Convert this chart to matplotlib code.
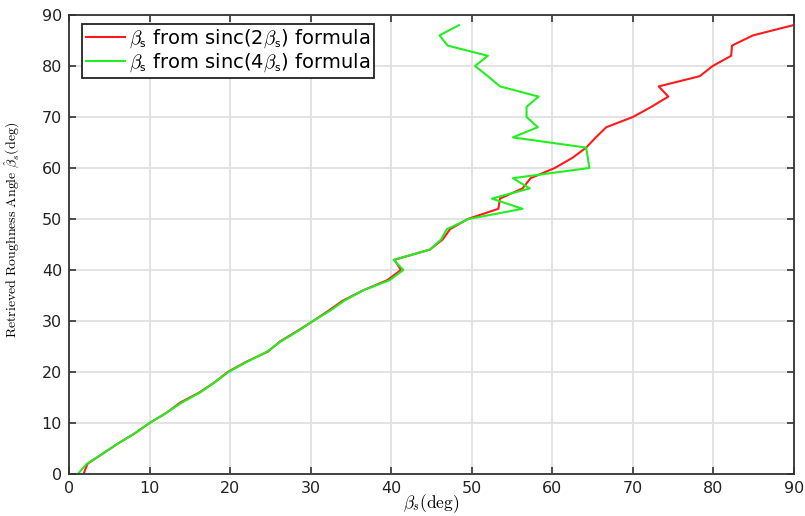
import matplotlib
matplotlib.use("Agg")
import matplotlib.pyplot as plt

plt.rcParams['font.family'] = ['DejaVu Sans']
plt.rcParams['mathtext.fontset'] = 'cm'

# retrieved angle levels (y) and the corresponding beta_s (x) for each formula
y_levels = [0, 2, 4, 6, 8, 10, 12, 14, 16, 18, 20, 22, 24, 26, 28, 30, 32, 34, 36, 38,
            40, 42, 44, 46, 48, 50, 52, 54, 56, 58, 60, 62, 64, 66, 68, 70, 72, 74, 76,
            78, 80, 82, 84, 86, 88]
x_sinc2 = [1.8, 2.3, 4.2, 6.1, 8.2, 10.0, 12.1, 13.8, 16.2, 18.1, 19.7, 22.0, 24.7, 26.2,
           28.3, 30.3, 32.2, 34.0, 36.5, 39.5, 41.2, 40.4, 44.8, 46.4, 47.3, 49.5, 53.3,
           53.5, 56.3, 57.3, 60.3, 62.5, 64.2, 65.4, 66.7, 70.0, 72.3, 74.4, 73.2, 78.3,
           79.9, 82.2, 82.3, 84.9, 89.9]
y_levels4 = [0, 2, 4, 6, 8, 10, 12, 14, 16, 18, 20, 22, 24, 26, 28, 30, 32, 34, 36, 38,
             40, 42, 44, 46, 48, 50, 52, 54, 56, 58, 60, 62, 64, 66, 68, 70, 72, 74, 76,
             78, 80, 82, 84, 86, 88]
x_sinc4 = [1.1, 2.2, 4.2, 6.1, 8.2, 10.0, 12.1, 14.0, 16.3, 18.1, 19.8, 22.1, 24.6, 26.3,
           28.4, 30.3, 32.4, 34.2, 36.5, 39.8, 41.5, 40.3, 44.8, 46.2, 46.9, 49.6, 56.3,
           52.5, 57.2, 55.1, 64.6, 64.4, 64.2, 55.1, 58.2, 56.8, 56.8, 58.3, 53.5, 52.0,
           50.4, 52.0, 47.0, 46.0, 48.4]

labels = [r'$\beta_{\mathsf{s}}$ from sinc(2$\beta_{\mathsf{s}}$) formula',
          r'$\beta_{\mathsf{s}}$ from sinc(4$\beta_{\mathsf{s}}$) formula']
xticks = [0, 10, 20, 30, 40, 50, 60, 70, 80, 90]
yticks = [0, 10, 20, 30, 40, 50, 60, 70, 80, 90]

fig = plt.figure(figsize=(8.05, 5.16), dpi=100)
ax = fig.add_axes([69/805, 1-474/516, (794-69)/805, (474-15)/516])

ax.plot(x_sinc2, y_levels, color='#ff1a1a', lw=1.5, label=labels[0])
ax.plot(x_sinc4, y_levels4, color='#22ee22', lw=1.5, label=labels[1])

ax.set_xlim(0, 90)
ax.set_ylim(0, 90)
ax.set_xticks(xticks)
ax.set_yticks(yticks)
ax.grid(True, color='#e0e0e0', lw=1.3)
ax.set_axisbelow(True)
ax.tick_params(direction='in', top=True, right=True, length=5, width=1.2,
               labelsize=11.5, colors='#333333', labelcolor='#222222', pad=5)
for s in ax.spines.values():
    s.set_color('#333333')
    s.set_linewidth(1.3)

ax.set_xlabel(r'$\beta_s\mathrm{(deg)}$', fontsize=12.5)
ax.xaxis.set_label_coords(0.5, -0.04)
ax.set_ylabel(r'$\mathrm{Retrieved\ Roughness\ Angle}\ \hat{\beta}_s\mathrm{(deg)}$',
              fontsize=10)
ax.yaxis.set_label_coords(-0.065, 0.532)

leg = ax.legend(loc='upper left', bbox_to_anchor=(13/725, 1-9/459), borderaxespad=0,
                fontsize=14, frameon=True, fancybox=False,
                edgecolor='#222222', framealpha=1,
                handlelength=2.0, handletextpad=0.2, borderpad=0.2, labelspacing=0.05)
leg.get_frame().set_linewidth(1.3)

fig.savefig('out.png', dpi=100)
